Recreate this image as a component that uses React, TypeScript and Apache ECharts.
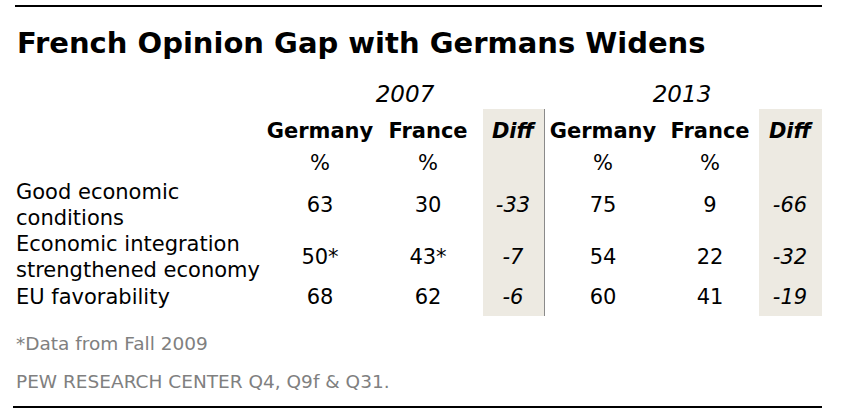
import React, { useEffect, useRef } from "react";
import * as echarts from "echarts";

// ---- data ----
const title = "French Opinion Gap with Germans Widens";
const years = ["2007", "2013"];
const columnHeads = ["Germany", "France", "Diff"];
const rowLabels = [
  "Good economic\nconditions",
  "Economic integration\nstrengthened economy",
  "EU favorability",
];
const germany2007 = [63, 50, 68];
const france2007 = [30, 43, 62];
const diff2007 = [-33, -7, -6];
const germany2013 = [75, 54, 60];
const france2013 = [9, 22, 41];
const diff2013 = [-66, -32, -19];
const fall2009 = [false, true, false]; // 2007 figures actually from Fall 2009
const footnote = "*Data from Fall 2009";
const source = "PEW RESEARCH CENTER Q4, Q9f & Q31.";

// ---- layout ----
const W = 844;
const H = 420;
const FONT = "'DejaVu Sans', Verdana, sans-serif";
const LABEL_X = 16;
const ROW_Y = [205, 257, 297];
const COL_X = [[320, 428, 513], [603, 710, 790]];
const YEAR_X = [405, 682];
const YEAR_Y = 94;
const HEAD_Y = 131;
const PCT_Y = 163;
const SHADE = [[483, 544], [759, 822]];
const SHADE_TOP = 109;
const SHADE_BOTTOM = 316;

function App() {
  const ref = useRef<HTMLDivElement>(null);
  useEffect(() => {
    if (!ref.current) return;
    const chart = echarts.init(ref.current, null, { renderer: "svg" });

    const blocks = [
      { g: germany2007, f: france2007, d: diff2007, star: fall2009 },
      { g: germany2013, f: france2013, d: diff2013, star: [false, false, false] },
    ];

    const numberData: any[] = [];
    const diffData: any[] = [];
    blocks.forEach((b, bi) => {
      ROW_Y.forEach((y, i) => {
        const s = b.star[i] ? "*" : "";
        numberData.push({ value: [COL_X[bi][0], y], name: `${b.g[i]}${s}` });
        numberData.push({ value: [COL_X[bi][1], y], name: `${b.f[i]}${s}` });
        diffData.push({ value: [COL_X[bi][2], y], name: `${b.d[i]}` });
      });
    });

    const labelData = rowLabels.map((t, i) => ({ value: [LABEL_X, ROW_Y[i]], name: t }));

    const txt = (text: string, x: number, y: number, extra: any = {}) => ({
      type: "text",
      x,
      y,
      silent: true,
      style: {
        text,
        fill: "#000",
        fontFamily: FONT,
        fontSize: 21,
        align: "center",
        verticalAlign: "middle",
        textAlign: "center",
        textVerticalAlign: "middle",
        ...extra,
      },
    });

    const graphics: any[] = [];
    SHADE.forEach(([x0, x1]) => {
      graphics.push({
        type: "rect",
        silent: true,
        shape: { x: x0, y: SHADE_TOP, width: x1 - x0, height: SHADE_BOTTOM - SHADE_TOP },
        style: { fill: "#EDEAE2" },
      });
    });
    graphics.push(
      {
        type: "line",
        silent: true,
        shape: { x1: SHADE[0][1] + 0.5, y1: SHADE_TOP, x2: SHADE[0][1] + 0.5, y2: SHADE_BOTTOM },
        style: { stroke: "#8a8a8a", lineWidth: 1 },
      },
      {
        type: "line",
        silent: true,
        shape: { x1: 15, y1: 6, x2: 822, y2: 6 },
        style: { stroke: "#000", lineWidth: 2 },
      },
      {
        type: "line",
        silent: true,
        shape: { x1: 13, y1: 407, x2: 822, y2: 407 },
        style: { stroke: "#000", lineWidth: 2 },
      },
      txt(title, 17, 43, {
        fontSize: 29,
        fontWeight: "bold",
        align: "left",
        textAlign: "left",
      }),
      txt(footnote, LABEL_X, 343, { fontSize: 18.5, fill: "#808080", align: "left", textAlign: "left" }),
      txt(source, LABEL_X, 381, { fontSize: 18.5, fill: "#808080", align: "left", textAlign: "left" })
    );
    years.forEach((yr, bi) => {
      graphics.push(txt(yr, YEAR_X[bi], YEAR_Y, { fontSize: 23, fontStyle: "italic" }));
      columnHeads.forEach((h, ci) => {
        graphics.push(
          txt(h, COL_X[bi][ci], HEAD_Y, {
            fontWeight: "bold",
            fontStyle: ci === 2 ? "italic" : "normal",
          })
        );
        if (ci < 2) graphics.push(txt("%", COL_X[bi][ci], PCT_Y));
      });
    });

    const baseLabel = {
      show: true,
      position: "inside",
      formatter: "{b}",
      color: "#000",
      opacity: 1,
      fontFamily: FONT,
      fontSize: 21,
      verticalAlign: "middle",
    };
    const invisible = { color: "rgba(0,0,0,0)", opacity: 1 };

    chart.setOption({
      animation: false,
      grid: { left: 0, right: 0, top: 0, bottom: 0 },
      xAxis: { type: "value", min: 0, max: W, show: false },
      yAxis: { type: "value", min: 0, max: H, inverse: true, show: false },
      graphic: { z: 0, elements: graphics },
      series: [
        {
          type: "scatter",
          silent: true,
          z: 5,
          symbolSize: 1,
          itemStyle: invisible,
          label: { ...baseLabel, align: "left", lineHeight: 26 },
          data: labelData,
        },
        {
          type: "scatter",
          silent: true,
          z: 5,
          symbolSize: 1,
          itemStyle: invisible,
          label: { ...baseLabel, align: "center" },
          data: numberData,
        },
        {
          type: "scatter",
          silent: true,
          z: 5,
          symbolSize: 1,
          itemStyle: invisible,
          label: { ...baseLabel, align: "center", fontStyle: "italic" },
          data: diffData,
        },
      ],
    });
    return () => chart.dispose();
  }, []);
  return (
    <div
      ref={ref}
      style={{ position: "absolute", left: 0, top: 0, width: W, height: H, background: "#fff" }}
    />
  );
}

export default App;
